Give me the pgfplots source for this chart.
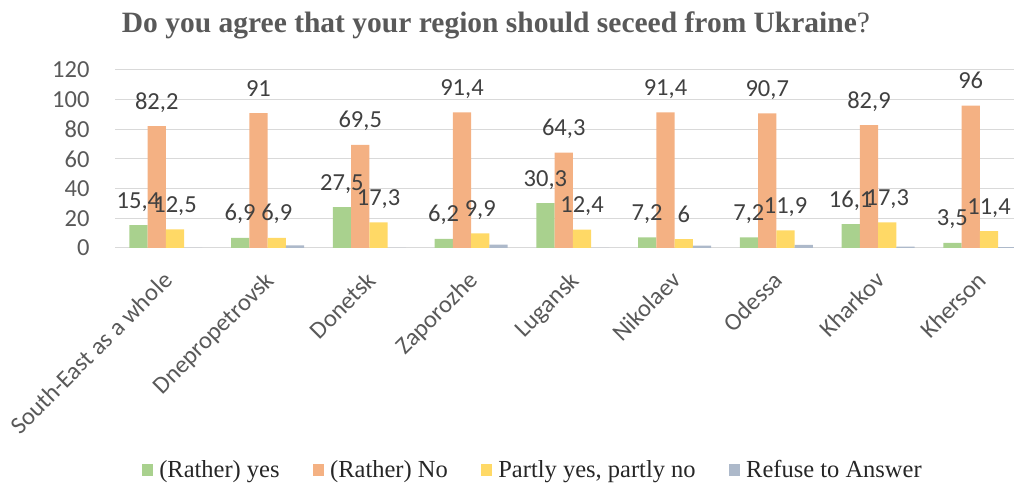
\documentclass[border=0pt]{standalone}
\usepackage{fontspec}
\setmainfont{Carlito}
\newfontfamily\tnr{Liberation Serif}
\usepackage{pgfplots}
\pgfplotsset{compat=1.18}
\pgfplotsset{sqlegend/.style={legend image code/.code={\fill[##1] (0pt,-5.75pt) rectangle (11.5pt,5.75pt);}}}
\definecolor{cyes}{HTML}{A9D18E}
\definecolor{cno}{HTML}{F4B183}
\definecolor{cpart}{HTML}{FFD966}
\definecolor{cref}{HTML}{ADB9CA}
\definecolor{ctext}{HTML}{595959}
\definecolor{clab}{HTML}{404040}
\definecolor{cleg}{HTML}{262626}
\definecolor{cgrid}{HTML}{D9D9D9}
\begin{document}
\begin{tikzpicture}[x=1pt,y=1pt]
\begin{axis}[
  at={(115pt,239pt)}, anchor=south west,
  scale only axis, width=915.75pt, height=178pt,
  xmin=-0.5, xmax=8.5, ymin=0, ymax=120,
  ybar=0pt, bar width=18.3pt,
  axis line style={draw=none},
  major tick length=0pt,
  ytick={0,20,...,120},
  ymajorgrids, grid style={cgrid, line width=1pt},
  xtick={0,...,8},
  xticklabels={South-East as a whole,Dnepropetrovsk,Donetsk,Zaporozhe,Lugansk,Nikolaev,Odessa,Kharkov,Kherson},
  xticklabel style={anchor=base east, inner sep=0pt, xshift=8pt, yshift=-34pt, rotate=45, font=\fontsize{24.5}{24.5}\selectfont, text=ctext},
  yticklabel style={anchor=east, font=\fontsize{24.5}{24.5}\selectfont, text=ctext, xshift=-22pt},
  /pgf/number format/assume math mode=true,
  /pgf/number format/use comma,
  nodes near coords style={font=\fontsize{24.5}{24.5}\selectfont, text=clab, anchor=base, yshift=17pt, inner sep=0pt},
  legend columns=4,
  legend style={draw=none, fill=none, font=\tnr\fontsize{24.5}{24.5}\selectfont, text=cleg,
    at={(0.029,-1.247)}, anchor=west, inner sep=0pt, nodes={inner sep=3pt},
    /tikz/every odd column/.append style={column sep=3pt},
    /tikz/every even column/.append style={column sep=30pt}},
]
\addplot[fill=cyes, draw=none, nodes near coords, sqlegend] coordinates {(0,15.4) (1,6.9) (2,27.5) (3,6.2) (4,30.3) (5,7.2) (6,7.2) (7,16.1) (8,3.5)};
\addlegendentry{(Rather) yes}
\addplot[fill=cno, draw=none, nodes near coords, sqlegend] coordinates {(0,82.2) (1,91) (2,69.5) (3,91.4) (4,64.3) (5,91.4) (6,90.7) (7,82.9) (8,96)};
\addlegendentry{(Rather) No}
\addplot[fill=cpart, draw=none, nodes near coords, sqlegend] coordinates {(0,12.5) (1,6.9) (2,17.3) (3,9.9) (4,12.4) (5,6) (6,11.9) (7,17.3) (8,11.4)};
\addlegendentry{Partly yes, partly no}
\addplot[fill=cref, draw=none, sqlegend] coordinates {(0,0) (1,1.8) (2,0) (3,2.3) (4,0) (5,1.6) (6,2.1) (7,1.0) (8,0.6)};
\addlegendentry{Refuse to Answer}
\end{axis}
\node[font=\tnr\bfseries\fontsize{29.5}{29.5}\selectfont, text=ctext, anchor=base] at (496,454) {Do you agree that your region should seceed from Ukraine\textmd{?}};
\pgfresetboundingbox
\path[use as bounding box] (0,0) rectangle (1014,487);
\end{tikzpicture}
\end{document}
